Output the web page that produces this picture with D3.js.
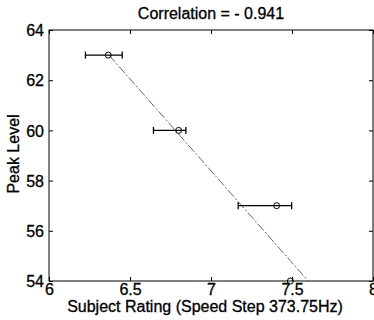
<!DOCTYPE html>
<html><head><meta charset="utf-8">
<script src="https://cdn.jsdelivr.net/npm/d3@7"></script>
<style>
html,body{margin:0;padding:0;background:#fff;}
text{font-family:"Liberation Sans",Arial,sans-serif;fill:#000;}
</style></head>
<body><svg id="c" width="374" height="320"></svg>
<script>
const ratingX = [6.366, 6.80, 7.405, 7.49];
const peakY = [63, 60, 57, 54];
const errLow = [6.225, 6.645, 7.168, 7.49];
const errHigh = [6.452, 6.845, 7.498, 7.49];
const fitX = [6.37, 7.60];
const fitY = [63, 54];
const xTicks = [6, 6.5, 7, 7.5, 8];
const yTicks = [54, 56, 58, 60, 62, 64];
const titleText = "Correlation = - 0.941";
const xLabel = "Subject Rating (Speed Step 373.75Hz)";
const yLabel = "Peak Level";

const svg = d3.select("#c");
const L = 49, R = 373, T = 30, B = 281;
const FS = "16px";
const x = d3.scaleLinear().domain([6, 8]).range([L, R]);
const y = d3.scaleLinear().domain([54, 64]).range([B, T]);

// box
svg.append("rect").attr("x", L).attr("y", T).attr("width", R - L).attr("height", B - T)
  .attr("fill", "none").attr("stroke", "#000").attr("stroke-width", 1);

const fmt = d => String(d);
const gx = svg.append("g").attr("transform", `translate(0,${B})`)
  .call(d3.axisBottom(x).tickValues(xTicks).tickSizeInner(-4).tickSizeOuter(0).tickPadding(14).tickFormat(fmt));
const gxt = svg.append("g").attr("transform", `translate(0,${T})`)
  .call(d3.axisTop(x).tickValues(xTicks).tickSizeInner(-4).tickSizeOuter(0).tickFormat(""));
const gy = svg.append("g").attr("transform", `translate(${L},0)`)
  .call(d3.axisLeft(y).tickValues(yTicks).tickSizeInner(-4).tickSizeOuter(0).tickPadding(5).tickFormat(fmt));
const gyr = svg.append("g").attr("transform", `translate(${R},0)`)
  .call(d3.axisRight(y).tickValues(yTicks).tickSizeInner(-4).tickSizeOuter(0).tickFormat(""));
[gx, gxt, gy, gyr].forEach(g => {
  g.select(".domain").remove();
  g.selectAll("line").attr("stroke", "#000");
  g.selectAll("text").style("font-family", '"Liberation Sans",Arial,sans-serif').style("font-size", FS)
    .attr("fill", "#000").attr("stroke", "#000").attr("stroke-width", 0.3);
});
gx.selectAll("text").attr("dy", "0");
gy.selectAll("text").attr("dy", "0.36em");

// fit line
svg.append("line")
  .attr("x1", x(fitX[0])).attr("y1", y(fitY[0]))
  .attr("x2", x(fitX[1])).attr("y2", y(fitY[1]))
  .attr("stroke", "#555").attr("stroke-width", 0.9).attr("stroke-dasharray", "9,2,2,2");

// error bars
const cap = 3.5;
ratingX.forEach((v, i) => {
  const yy = y(peakY[i]);
  if (errHigh[i] > errLow[i]) {
    svg.append("line").attr("x1", x(errLow[i])).attr("x2", x(errHigh[i])).attr("y1", yy).attr("y2", yy)
      .attr("stroke", "#000").attr("stroke-width", 1.3);
    [errLow[i], errHigh[i]].forEach(e => {
      svg.append("line").attr("x1", x(e)).attr("x2", x(e)).attr("y1", yy - cap).attr("y2", yy + cap)
        .attr("stroke", "#000").attr("stroke-width", 1.3);
    });
  }
  svg.append("circle").attr("cx", x(v)).attr("cy", yy).attr("r", 3)
    .attr("fill", "none").attr("stroke", "#000").attr("stroke-width", 1);
});

// labels
const lab = (sel) => sel.style("font-size", FS).attr("stroke", "#000").attr("stroke-width", 0.3);
lab(svg.append("text").attr("x", (L + R) / 2).attr("y", 19).attr("text-anchor", "middle").text(titleText));
lab(svg.append("text").attr("x", 205).attr("y", 312).attr("text-anchor", "middle").text(xLabel));
lab(svg.append("text").attr("transform", `translate(19,154) rotate(-90)`).attr("text-anchor", "middle").text(yLabel));
</script></body></html>
